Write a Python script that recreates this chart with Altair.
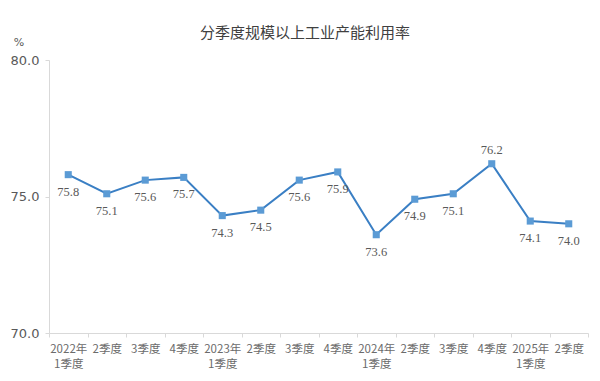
import altair as alt
import pandas as pd

quarters = ["2022年|1季度", "2季度", "3季度", "4季度",
            "2023年|1季度", "2季度 ", "3季度 ", "4季度 ",
            "2024年|1季度", "2季度  ", "3季度  ", "4季度  ",
            "2025年|1季度", "2季度   "]
values = [75.8, 75.1, 75.6, 75.7, 74.3, 74.5, 75.6, 75.9, 73.6, 74.9, 75.1, 76.2, 74.1, 74.0]
title_text = ["分季度规模以上工业产能利用率"]
unit_text = ["%"]

df = pd.DataFrame({"q": quarters, "v": values})

x = alt.X("q:N", sort=quarters, title=None,
          scale=alt.Scale(type="band", paddingInner=0, paddingOuter=0),
          axis=alt.Axis(labelExpr="datum.value ? split(datum.value, '|') : ''", labelAngle=0,
                        tickBand="extent", domainColor="#d9d9d9", tickColor="#d9d9d9",
                        tickSize=4, labelColor="#6b6b6b", labelFontSize=11.5,
                        labelFont="Noto Sans CJK SC", labelPadding=6, labelLineHeight=15))
y = alt.Y("v:Q", title=None,
          scale=alt.Scale(domain=[70, 80], nice=False, zero=False),
          axis=alt.Axis(values=[70, 75, 80], format=".1f", grid=False,
                        domainColor="#d9d9d9", tickColor="#d9d9d9", tickSize=4,
                        labelColor="#595959", labelFontSize=13, labelFont="DejaVu Sans",
                        labelPadding=6))

base = alt.Chart(df)
line = base.mark_line(color="#3a7fc4", strokeWidth=2).encode(x=x, y=y)
pts = base.mark_square(color="#5b9bd5", size=50, opacity=1).encode(x=x, y=y)
lab_below = base.transform_filter("datum.v < 76").mark_text(
    dy=17, font="Liberation Serif", fontSize=12.5, color="#595959").encode(
    x=x, y=y, text=alt.Text("v:Q", format=".1f"))
lab_above = base.transform_filter("datum.v >= 76").mark_text(
    dy=-14, font="Liberation Serif", fontSize=12.5, color="#595959").encode(
    x=x, y=y, text=alt.Text("v:Q", format=".1f"))

title = alt.Chart(pd.DataFrame({"t": title_text})).mark_text(
    fontSize=15, font="Noto Sans CJK SC", color="#404040").encode(
    x=alt.value(256), y=alt.value(-27), text="t:N")
unit = alt.Chart(pd.DataFrame({"t": unit_text})).mark_text(
    fontSize=11, font="DejaVu Sans", color="#595959").encode(
    x=alt.value(-30), y=alt.value(-17), text="t:N")

chart = alt.layer(line, pts, lab_below, lab_above, title, unit).properties(
    width=539, height=273,
    autosize=alt.AutoSizeParams(type="none"),
    padding={"left": 41, "top": 52, "right": 4, "bottom": 44},
).configure_view(stroke=None)

chart.save("out.html", embed_options={"renderer": "svg", "actions": False})
